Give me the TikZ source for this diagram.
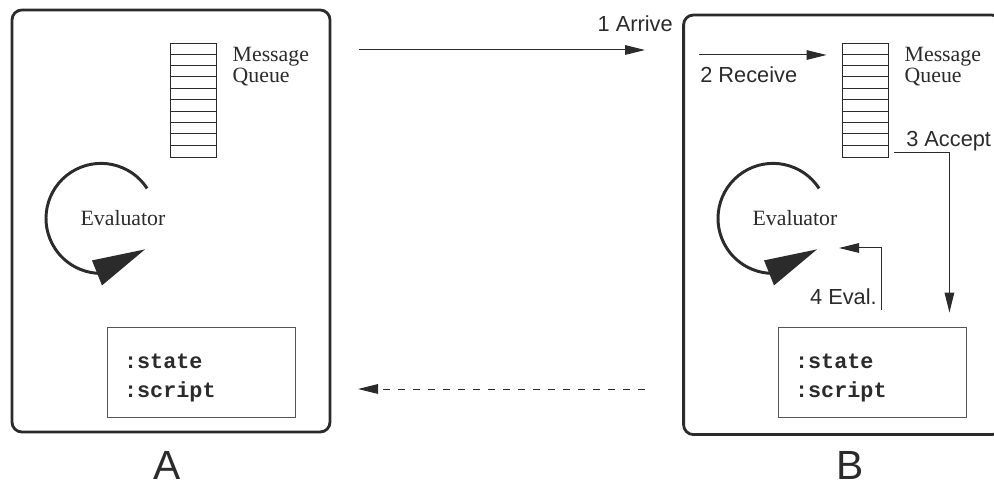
\documentclass[tikz,border=0pt]{standalone}
\usepackage{fontspec}
\setmainfont{Liberation Serif}
\setsansfont{Liberation Sans}
\setmonofont{Liberation Mono}
\usetikzlibrary{positioning,arrows.meta,calc}
\definecolor{inkgray}{HTML}{2B2B2B}
\tikzset{
  agent/.style={draw=inkgray, line width=2pt, rounded corners=7pt, inner sep=0pt},
  queuebox/.style={draw=inkgray, line width=0.6pt, minimum width=1.15cm,
    minimum height=2.85cm, inner sep=0pt},
  slotbox/.style={draw=inkgray!80, line width=0.6pt, minimum width=4.7cm,
    minimum height=2.25cm, inner sep=0pt},
  qlab/.style={font=\fontsize{15.5}{15}\selectfont, text=inkgray, align=left, inner sep=0pt},
  evlab/.style={font=\fontsize{15.5}{18}\selectfont, text=inkgray, inner sep=0pt},
  slotlab/.style={font=\fontsize{15.5}{20}\selectfont\ttfamily\bfseries, text=inkgray,
    align=left, inner sep=0pt},
  msg/.style={-{Triangle[length=0.5cm, width=0.24cm]}, line width=0.7pt, draw=inkgray},
  flab/.style={font=\sffamily\fontsize{15.5}{18}\selectfont, text=inkgray, inner sep=0pt},
  namelab/.style={font=\sffamily\fontsize{29}{33}\selectfont, text=inkgray, inner sep=0pt},
  evring/.style={line width=2.1pt, draw=inkgray},
}
\newcommand{\evcycle}[1]{%
  \draw[evring] ($(#1)+(33:1.375)$) arc[start angle=33, end angle=268, radius=1.375];
  \fill[inkgray] ($(#1)+(1.1,-0.775)$) -- ($(#1)+(-0.225,-1.05)$)
    -- ($(#1)+(0.025,-1.675)$) -- cycle;}
\newcommand{\queuerows}[1]{%
  \foreach \r in {1,...,9}
    \draw[line width=0.6pt, draw=inkgray] ($(#1.north west)+(0,-\r*0.285)$) -- ++(1.15,0);}

\begin{document}
\begin{tikzpicture}
    \useasboundingbox (0,0) rectangle (24.85,12.25);
    \clip (0,0) rectangle (24.85,12.25);
    % agent A
    \node[agent, minimum width=7.95cm, minimum height=10.55cm] (boxA) at (4.275,6.725) {};
    \node[queuebox] (qA) at (4.825,9.75) {};
    \queuerows{qA}
    \node[qlab, anchor=north west] (mqA) at ($(qA.north east)+(0.4,-0.1)$) {Message\\Queue};
    \node[evlab] (evA) at (3.075,6.79) {Evaluator};
    \coordinate (ringA) at ($(evA)+(-0.55,0)$);
    \evcycle{ringA}
    \node[slotbox] (stA) at (5.025,2.95) {};
    \node[slotlab, anchor=west] (txA) at ($(stA.west)+(0.43,-0.15)$) {:state\\:script};
    \node[namelab, anchor=base] (nameA) at (4.175,0.25) {A};
    % agent B
    \node[agent, minimum width=7.95cm, minimum height=10.49cm] (boxB) at (21.065,6.63) {};
    \node[queuebox] (qB) at (21.625,9.75) {};
    \queuerows{qB}
    \node[qlab, anchor=north west] (mqB) at ($(qB.north east)+(0.4,-0.1)$) {Message\\Queue};
    \node[evlab] (evB) at (19.875,6.79) {Evaluator};
    \coordinate (ringB) at ($(evB)+(-0.55,0)$);
    \evcycle{ringB}
    \node[slotbox] (stB) at (21.8,2.95) {};
    \node[slotlab, anchor=west] (txB) at ($(stB.west)+(0.43,-0.15)$) {:state\\:script};
    \node[namelab, anchor=base] (nameB) at (21.25,0.25) {B};
    % message path
    \coordinate (arrS) at (8.975,11.0);
    \coordinate (arrE) at (16.125,11.0);
    \draw[msg] (arrS) -- (arrE);
    \node[flab, anchor=base east] (arrL) at (16.825,11.45) {1 Arrive};
    \coordinate (rcvS) at (17.475,10.875);
    \draw[msg, shorten >=0.375cm] (rcvS) -- (rcvS -| qB.west);
    \node[flab, anchor=base west] (rcvL) at (17.5,10.175) {2 Receive};
    \coordinate (accS) at ($(qB.south east)+(0.15,0.125)$);
    \coordinate (accE) at ($(stB.north east)+(-0.425,0.35)$);
    \draw[msg] (accS) -| (accE);
    \node[flab, anchor=base west] (accL) at (22.65,8.575) {3 Accept};
    \coordinate (evS) at ($(stB.north)+(0.225,0.425)$);
    \coordinate (evT) at (20.975,6.05);
    \draw[msg] (evS) |- (evT);
    \node[flab, anchor=base east] (evL) at (21.925,4.625) {4 Eval.};
    % reply
    \coordinate (retS) at (16.125,2.525);
    \coordinate (retE) at (8.95,2.525);
    \draw[msg, dash pattern=on 1.75mm off 2mm] (retS) -- (retE);
  \end{tikzpicture}
\end{document}
